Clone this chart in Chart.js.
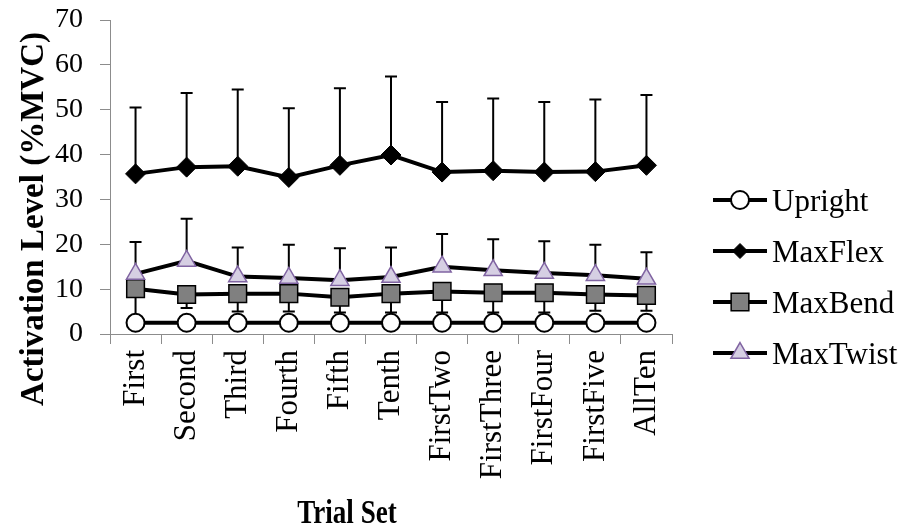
<!DOCTYPE html>
<html><head><meta charset="utf-8">
<script src="https://cdn.jsdelivr.net/npm/chart.js@4.4.1/dist/chart.umd.min.js"></script>
<style>html,body{margin:0;padding:0;background:#fff;}</style>
</head><body>
<canvas id="c" width="909" height="531"></canvas>
<script>
// ---- data ----
const categories = ['First','Second','Third','Fourth','Fifth','Tenth','FirstTwo','FirstThree','FirstFour','FirstFive','AllTen'];
const seriesNames = ['Upright','MaxFlex','MaxBend','MaxTwist'];
const upright = [2.5,2.5,2.5,2.5,2.5,2.5,2.5,2.5,2.5,2.5,2.5];
const maxFlex = [35.7,37.2,37.4,34.9,37.6,39.9,36.1,36.4,36.1,36.2,37.6];
const maxFlexErrPlus = [14.8,16.5,17.1,15.4,17.2,17.5,15.6,16.1,15.6,16.1,15.7];
const maxBend = [10.1,8.8,9.0,9.0,8.2,9.0,9.5,9.2,9.2,8.8,8.6];
const maxBendErrMinus = [7.1,3.0,4.0,4.0,3.4,4.2,4.7,4.4,4.4,3.6,3.4];
const maxTwist = [13.4,16.3,12.8,12.5,12.0,12.7,15.0,14.2,13.6,13.1,12.3];
const maxTwistErrPlus = [7.1,9.4,6.5,7.4,7.1,6.6,7.3,6.9,7.1,6.8,5.9];
const yMin = 0, yMax = 70, yStep = 10;
const yAxisTitle = 'Activation Level (%MVC)';
const xAxisTitle = 'Trial Set';

// ---- styles ----
const SERIF = "'Times New Roman', 'Liberation Serif', serif";
const markerStyles = [
  {pointStyle:'circle',   radius:9,    legendRadius:9,   bg:'#ffffff', border:'#000000', bw:2},
  {pointStyle:'rectRot',  radius:10,   legendRadius:7.5, bg:'#000000', border:'#000000', bw:1},
  {pointStyle:'rect',     radius:12.5, legendRadius:12.5,bg:'#808080', border:'#000000', bw:1.5},
  {pointStyle:'triangle', radius:10.5, legendRadius:10.5,bg:'#d6cfe3', border:'#8064a2', bw:1.5}
];
const seriesValues = [upright, maxFlex, maxBend, maxTwist];
const errPlus = [null, maxFlexErrPlus, null, maxTwistErrPlus];
const errMinus = [null, null, maxBendErrMinus, null];

const datasets = seriesNames.map((name, i) => ({
  label: name,
  data: seriesValues[i],
  borderColor: '#000000',
  borderWidth: 4,
  pointStyle: markerStyles[i].pointStyle,
  pointRadius: markerStyles[i].radius,
  pointHoverRadius: markerStyles[i].radius,
  pointBackgroundColor: markerStyles[i].bg,
  pointBorderColor: markerStyles[i].border,
  pointBorderWidth: markerStyles[i].bw,
  fill: false,
  tension: 0,
  order: 4 - i,
  errPlus: errPlus[i],
  errMinus: errMinus[i]
}));

const errorBarPlugin = {
  id: 'errorBars',
  beforeDatasetsDraw(chart) {
    const ctx = chart.ctx, ys = chart.scales.y;
    ctx.save();
    ctx.strokeStyle = '#000';
    ctx.lineWidth = 2;
    chart.data.datasets.forEach((ds, i) => {
      if (!ds.errPlus && !ds.errMinus) return;
      const meta = chart.getDatasetMeta(i);
      meta.data.forEach((pt, j) => {
        const v = ds.data[j];
        const ends = [];
        if (ds.errPlus) ends.push(v + ds.errPlus[j]);
        if (ds.errMinus) ends.push(v - ds.errMinus[j]);
        ends.forEach(e => {
          const ye = ys.getPixelForValue(e);
          ctx.beginPath();
          ctx.moveTo(pt.x, pt.y);
          ctx.lineTo(pt.x, ye);
          ctx.moveTo(pt.x - 6, ye);
          ctx.lineTo(pt.x + 6, ye);
          ctx.stroke();
        });
      });
    });
    ctx.restore();
  }
};

const decorPlugin = {
  id: 'decor',
  afterDraw(chart) {
    const ctx = chart.ctx;
    // legend
    chart.data.datasets.forEach((ds, i) => {
      const y = 200 + i * 51;
      ctx.save();
      ctx.strokeStyle = '#000';
      ctx.lineWidth = 4;
      ctx.beginPath();
      ctx.moveTo(713, y); ctx.lineTo(767, y);
      ctx.stroke();
      const st = markerStyles[i];
      ctx.fillStyle = st.bg;
      ctx.strokeStyle = st.border;
      ctx.lineWidth = st.bw;
      Chart.helpers.drawPoint(ctx, {pointStyle: st.pointStyle, radius: st.legendRadius, borderWidth: st.bw, rotation: 0}, 740, y);
      ctx.fillStyle = '#000';
      ctx.font = '31px ' + SERIF;
      ctx.textAlign = 'left';
      ctx.textBaseline = 'alphabetic';
      ctx.fillText(ds.label, 772, y + 10.5);
      ctx.restore();
    });
    // y axis title
    ctx.save();
    ctx.translate(43, 219);
    ctx.rotate(-Math.PI / 2);
    ctx.font = 'bold 33px ' + SERIF;
    ctx.fillStyle = '#000';
    ctx.textAlign = 'center';
    ctx.textBaseline = 'alphabetic';
    ctx.fillText(yAxisTitle, 0, 0);
    ctx.restore();
    // x axis title
    ctx.save();
    ctx.translate(347, 523);
    ctx.scale(0.82, 1);
    ctx.font = 'bold 33px ' + SERIF;
    ctx.fillStyle = '#000';
    ctx.textAlign = 'center';
    ctx.textBaseline = 'alphabetic';
    ctx.fillText(xAxisTitle, 0, 0);
    ctx.restore();
  }
};

new Chart(document.getElementById('c'), {
  type: 'line',
  data: { labels: categories, datasets: datasets },
  options: {
    responsive: false,
    animation: false,
    devicePixelRatio: 1,
    layout: { padding: { left: 0, top: 20, right: 237, bottom: 0 } },
    plugins: { legend: { display: false }, tooltip: { enabled: false } },
    scales: {
      x: {
        type: 'category',
        offset: true,
        afterFit(scale) { scale.height = 197; scale.paddingLeft = 0; scale.paddingRight = 0; },
        grid: { display: true, offset: true, drawOnChartArea: false, drawTicks: true, tickLength: 10, color: '#8c8c8c', lineWidth: 1 },
        border: { display: true, color: '#8c8c8c', width: 1 },
        ticks: { autoSkip: false, minRotation: 90, maxRotation: 90, padding: 6, color: '#000', font: { family: SERIF, size: 31 } }
      },
      y: {
        min: yMin, max: yMax,
        afterFit(scale) { scale.width = 110; scale.paddingTop = 0; scale.paddingBottom = 0; },
        grid: { display: true, drawOnChartArea: false, drawTicks: true, tickLength: 10, color: '#8c8c8c', lineWidth: 1 },
        border: { display: true, color: '#8c8c8c', width: 1 },
        ticks: { stepSize: yStep, padding: 17, color: '#000', font: { family: SERIF, size: 28 } }
      }
    }
  },
  plugins: [errorBarPlugin, decorPlugin]
});
</script>
</body></html>
